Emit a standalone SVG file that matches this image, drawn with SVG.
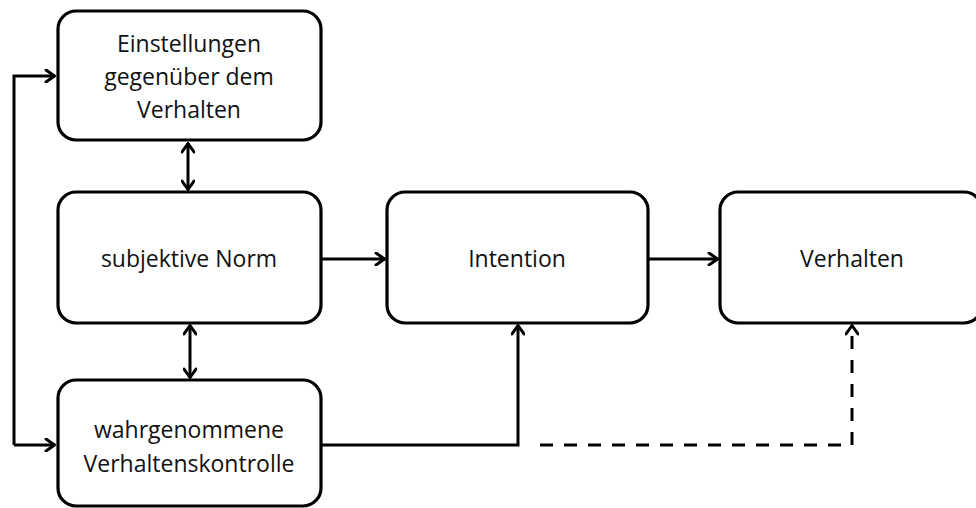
<svg xmlns="http://www.w3.org/2000/svg" width="976" height="508" viewBox="0 0 976 508">
<defs>
<marker id="arr" viewBox="0 0 12 14" refX="11" refY="7" markerWidth="12" markerHeight="14" markerUnits="userSpaceOnUse" orient="auto-start-reverse">
<path d="M2,1 L10.5,7 L2,13" fill="none" stroke="#000" stroke-width="3" stroke-linecap="round" stroke-linejoin="round"/>
</marker>
<style>
.box{fill:#fff;stroke:#000;stroke-width:3.2}
.t{font-family:"Open Sans","Liberation Sans",sans-serif;font-size:23px;fill:#111;text-anchor:middle}
.c{fill:none;stroke:#000;stroke-width:3}
.d{stroke-dasharray:13 11}
</style>
</defs>
<g id="connectors">
<path class="c" d="M14,445 L14,76 L55,76" marker-end="url(#arr)"/>
<path class="c" d="M14,445 L55,445" marker-end="url(#arr)"/>
<path class="c" d="M188,143 L188,190" marker-start="url(#arr)" marker-end="url(#arr)"/>
<path class="c" d="M190,325 L190,378" marker-start="url(#arr)" marker-end="url(#arr)"/>
<path class="c" d="M321,259 L385,259" marker-end="url(#arr)"/>
<path class="c" d="M648,259 L718,259" marker-end="url(#arr)"/>
<path class="c" d="M321,445 L518,445 L518,325" marker-end="url(#arr)"/>
<path class="c d" d="M540,445 L852,445 L852,325" marker-end="url(#arr)"/>
</g>
<g id="einstellungen">
<rect class="box" x="58" y="11" width="263" height="129" rx="18"/>
<text class="t" x="189" y="52">Einstellungen</text>
<text class="t" x="189" y="85">gegenüber dem</text>
<text class="t" x="189" y="118">Verhalten</text>
</g>
<g id="norm">
<rect class="box" x="58" y="192" width="263" height="131" rx="18"/>
<text class="t" x="189" y="267">subjektive Norm</text>
</g>
<g id="kontrolle">
<rect class="box" x="58" y="380" width="263" height="126" rx="18"/>
<text class="t" x="189" y="438">wahrgenommene</text>
<text class="t" x="189" y="472">Verhaltenskontrolle</text>
</g>
<g id="intention">
<rect class="box" x="387" y="192" width="261" height="131" rx="18"/>
<text class="t" x="517" y="267">Intention</text>
</g>
<g id="verhalten">
<rect class="box" x="720" y="192" width="262" height="131" rx="18"/>
<text class="t" x="852" y="267">Verhalten</text>
</g>
</svg>
